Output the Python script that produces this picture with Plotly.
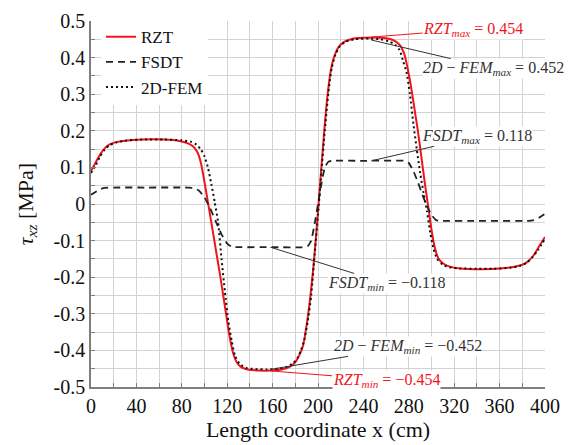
import plotly.graph_objects as go

# ---------------- data ----------------
rzt_x = [0, 4, 8, 12, 16, 22, 30, 45, 65, 78, 86, 90, 94, 97, 100, 103, 106, 110, 114,
         118, 122, 125, 128, 132, 138, 148, 158, 168, 175, 180, 184, 187, 190, 193, 196,
         199, 202, 205, 208, 211, 214, 218, 223, 230, 240, 250, 260, 266, 272, 276, 279,
         282, 285, 288, 291, 294, 297, 300, 303, 306, 310, 316, 325, 345, 360, 372, 380,
         385, 390, 395, 400]
rzt_y = [0.09, 0.113, 0.135, 0.152, 0.162, 0.169, 0.173, 0.176, 0.176, 0.172, 0.165, 0.157,
         0.14, 0.11, 0.06, 0.005, -0.05, -0.125, -0.2, -0.28, -0.36, -0.405, -0.43, -0.445,
         -0.452, -0.455, -0.455, -0.452, -0.445, -0.432, -0.41, -0.385, -0.33, -0.26, -0.17,
         -0.06, 0.06, 0.18, 0.285, 0.36, 0.4, 0.428, 0.443, 0.451, 0.454, 0.455, 0.453,
         0.448, 0.435, 0.41, 0.37, 0.32, 0.26, 0.2, 0.13, 0.06, -0.005, -0.07, -0.12, -0.148,
         -0.162, -0.171, -0.176, -0.178, -0.176, -0.172, -0.166, -0.157, -0.14, -0.115, -0.09]

fsdt_x = [0, 4, 8, 12, 20, 50, 85, 90, 95, 100, 105, 110, 115, 120, 124, 130, 160, 188,
          191, 194, 197, 200, 203, 206, 209, 212, 240, 276, 280, 284, 288, 292, 296, 300,
          304, 308, 340, 385, 390, 395, 400]
fsdt_y = [0.025, 0.033, 0.04, 0.044, 0.045, 0.045, 0.045, 0.044, 0.037, 0.018, -0.012,
          -0.048, -0.083, -0.108, -0.117, -0.118, -0.118, -0.118, -0.115, -0.1, -0.055, 0.0,
          0.055, 0.1, 0.115, 0.118, 0.118, 0.118, 0.112, 0.09, 0.06, 0.025, -0.005, -0.03,
          -0.044, -0.046, -0.046, -0.046, -0.044, -0.037, -0.027]

fem_x = [0, 4, 8, 12, 16, 22, 30, 45, 65, 80, 88, 93, 97, 100, 103, 106, 109, 112, 115,
         118, 121, 124, 127, 131, 137, 145, 155, 165, 172, 178, 182, 185, 188, 191, 194,
         197, 200, 203, 206, 209, 212, 215, 219, 224, 232, 245, 255, 262, 268, 272, 275,
         278, 281, 284, 287, 290, 293, 296, 299, 302, 305, 310, 316, 325, 340, 355, 370,
         378, 384, 389, 394, 400]
fem_y = [0.085, 0.105, 0.13, 0.148, 0.16, 0.168, 0.173, 0.176, 0.176, 0.174, 0.17, 0.162,
         0.148, 0.13, 0.1, 0.055, 0.005, -0.05, -0.15, -0.24, -0.32, -0.375, -0.415, -0.437,
         -0.448, -0.451, -0.452, -0.45, -0.445, -0.435, -0.42, -0.4, -0.37, -0.32, -0.25,
         -0.14, -0.03, 0.09, 0.2, 0.3, 0.37, 0.405, 0.43, 0.443, 0.45, 0.452, 0.45, 0.445,
         0.435, 0.42, 0.39, 0.36, 0.3, 0.22, 0.15, 0.085, 0.03, -0.02, -0.08, -0.125, -0.15,
         -0.166, -0.173, -0.176, -0.177, -0.177, -0.174, -0.169, -0.16, -0.145, -0.125,
         -0.095]

y_tick_vals = [0.5, 0.4, 0.3, 0.2, 0.1, 0, -0.1, -0.2, -0.3, -0.4, -0.5]
y_tick_text = ["0.5", "0.4", "0.3", "0.2", "0.1", "0", "-0.1", "-0.2", "-0.3", "-0.4", "-0.5"]
x_tick_vals = [0, 40, 80, 120, 160, 200, 240, 280, 320, 360, 400]

RED = "#f0151d"
DARK = "#333333"
SERIF = "Liberation Serif, Times New Roman, serif"

fig = go.Figure()
fig.add_trace(go.Scatter(x=rzt_x, y=rzt_y, mode="lines", name="RZT",
                         line=dict(color=RED, width=2, shape="spline", smoothing=0.6)))
fig.add_trace(go.Scatter(x=fsdt_x, y=fsdt_y, mode="lines", name="FSDT",
                         line=dict(color="#222222", width=1.8, dash="7px,5px",
                                   shape="spline", smoothing=0.4)))
fig.add_trace(go.Scatter(x=fem_x, y=fem_y, mode="lines", name="2D-FEM",
                         line=dict(color="#111111", width=2, dash="2px,3px",
                                   shape="spline", smoothing=0.6)))

# annotations: (point x, point y, text x, text y, text, colour)
annots = [
    (247, 0.456, 336.6, 0.478, "<i>RZT</i><sub><i>max</i></sub> = 0.454", RED),
    (247, 0.448, 354.6, 0.370, "<i>2D</i> − <i>FEM</i><sub><i>max</i></sub> = 0.452", DARK),
    (247, 0.118, 340.5, 0.185, "<i>FSDT</i><sub><i>max</i></sub> = 0.118", DARK),
    (158, -0.118, 260.0, -0.217, "<i>FSDT</i><sub><i>min</i></sub> = −0.118", DARK),
    (158, -0.452, 278.9, -0.389, "<i>2D</i> − <i>FEM</i><sub><i>min</i></sub> = −0.452", DARK),
    (158, -0.456, 260.0, -0.481, "<i>RZT</i><sub><i>min</i></sub> = −0.454", RED),
]
for px, py, tx, ty, txt, col in annots:
    fig.add_annotation(x=px, y=py, ax=tx, ay=ty, axref="x", ayref="y", xref="x", yref="y",
                       text=txt, showarrow=True, arrowhead=0, arrowwidth=1, arrowcolor=col,
                       standoff=0, startstandoff=0, bgcolor="white", borderpad=0,
                       font=dict(family=SERIF, size=16, color=col))

grid_col = "#d3d3d3"
fig.update_xaxes(range=[0, 400], tickvals=x_tick_vals, showgrid=True, gridcolor=grid_col,
                 gridwidth=1, zeroline=False, showline=True, linecolor="#7f7f7f", linewidth=1.5,
                 ticks="inside", ticklen=4, tickcolor="#7f7f7f", automargin=False,
                 minor=dict(dtick=20, showgrid=True, gridcolor=grid_col, gridwidth=1,
                            ticks="inside", ticklen=4, tickcolor="#7f7f7f"),
                 tickfont=dict(family=SERIF, size=20, color="#111"),
                 title=dict(text="Length coordinate x (cm)", standoff=6,
                            font=dict(family=SERIF, size=22, color="#111")))
fig.update_yaxes(range=[-0.5, 0.5], tickvals=y_tick_vals, ticktext=y_tick_text, showgrid=True,
                 gridcolor=grid_col, gridwidth=1, zeroline=False, showline=True,
                 linecolor="#7f7f7f", linewidth=1.5, ticks="inside", ticklen=4,
                 tickcolor="#7f7f7f", automargin=False,
                 minor=dict(dtick=0.05, tick0=0, showgrid=True, gridcolor=grid_col, gridwidth=1,
                            ticks="inside", ticklen=4, tickcolor="#7f7f7f"),
                 tickfont=dict(family=SERIF, size=20, color="#111"),
                 title=dict(text="<i>τ<sub>xz</sub></i> [MPa]", standoff=14,
                            font=dict(family=SERIF, size=22, color="#111")))

# the page body adds an 8px margin, so the figure is sized to fit within the window
fig.update_layout(
    width=568, height=437,
    margin=dict(l=83, r=31, t=11, b=58),
    paper_bgcolor="white", plot_bgcolor="white",
    showlegend=True,
    legend=dict(x=0.022, y=1.005, xanchor="left", yanchor="top", bgcolor="white",
                borderwidth=0, font=dict(family=SERIF, size=17, color="#111"),
                tracegroupgap=0),
)

fig.write_html("out.html")
